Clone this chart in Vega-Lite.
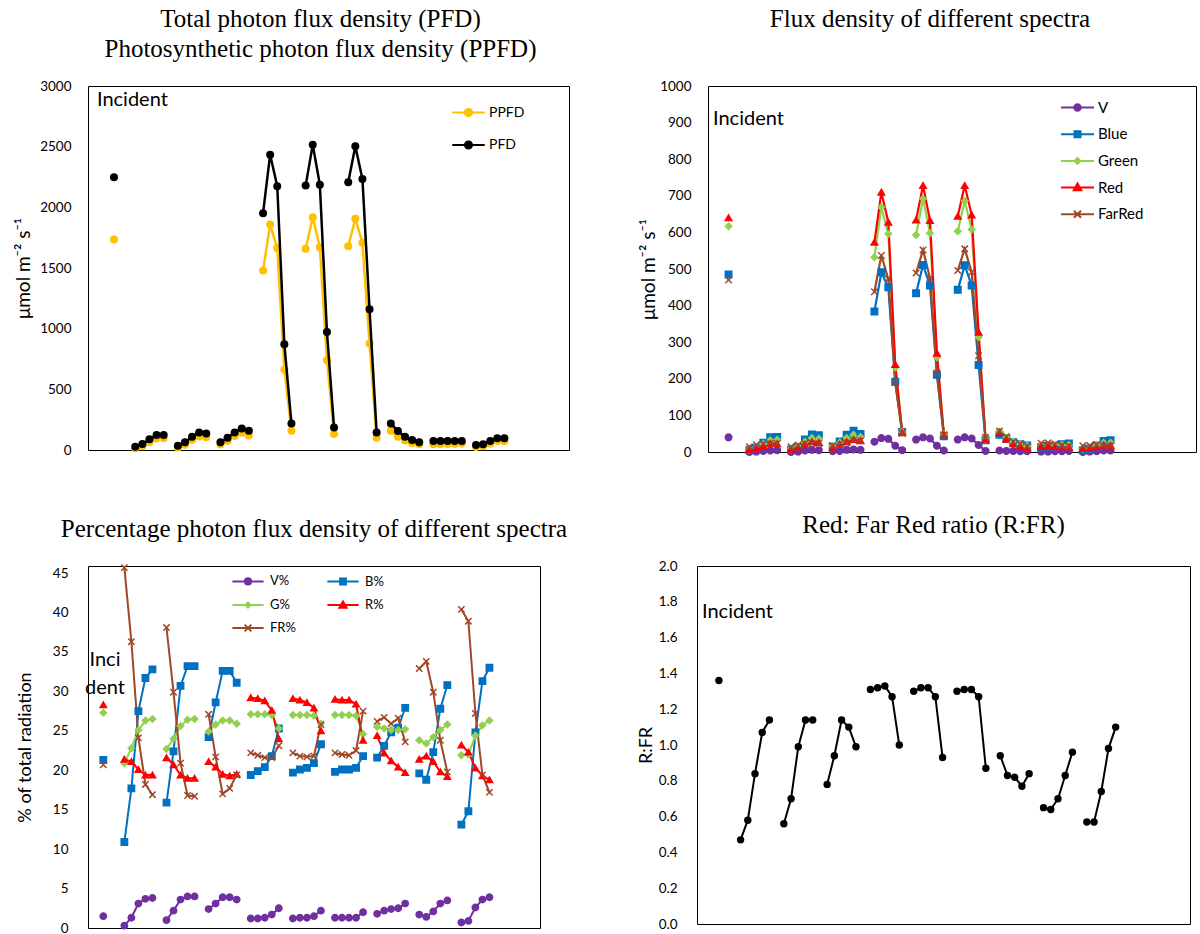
{
"$schema":"https://vega.github.io/schema/vega-lite/v6.json",
"background":"white",
"padding":{"left":14,"top":6,"right":5,"bottom":5},
"datasets":{"d":[
{"i":0,"g":0,"PPFD":1735,"PFD":2248,"V":40,"Blue":485,"Green":617,"Red":640,"FarRed":470,"V%":1.5,"B%":21.3,"G%":27.3,"R%":28.3,"FR%":20.7,"RFR":1.36},
{"i":3,"g":1,"PPFD":14,"PFD":27,"V":0,"Blue":5,"Green":7,"Red":7,"FarRed":14,"V%":0.3,"B%":10.9,"G%":20.9,"R%":21.4,"FR%":45.7,"RFR":0.47},
{"i":4,"g":1,"PPFD":30,"PFD":49,"V":1,"Blue":11,"Green":13,"Red":11,"FarRed":20,"V%":1.3,"B%":17.7,"G%":22.8,"R%":21.1,"FR%":36.3,"RFR":0.58},
{"i":5,"g":1,"PPFD":64,"PFD":88,"V":3,"Blue":25,"Green":22,"Red":18,"FarRed":22,"V%":3.1,"B%":27.5,"G%":25.1,"R%":20.1,"FR%":24.1,"RFR":0.84},
{"i":6,"g":1,"PPFD":95,"PFD":123,"V":4,"Blue":40,"Green":32,"Red":23,"FarRed":24,"V%":3.7,"B%":31.7,"G%":26.3,"R%":19.4,"FR%":18.2,"RFR":1.07},
{"i":7,"g":1,"PPFD":97,"PFD":123,"V":5,"Blue":41,"Green":33,"Red":23,"FarRed":23,"V%":3.8,"B%":32.8,"G%":26.5,"R%":19.4,"FR%":16.9,"RFR":1.14},
{"i":9,"g":2,"PPFD":21,"PFD":36,"V":0,"Blue":6,"Green":8,"Red":8,"FarRed":14,"V%":1.0,"B%":15.9,"G%":22.7,"R%":21.6,"FR%":38.1,"RFR":0.56},
{"i":10,"g":2,"PPFD":44,"PFD":63,"V":1,"Blue":14,"Green":15,"Red":13,"FarRed":19,"V%":2.2,"B%":22.4,"G%":24.0,"R%":20.7,"FR%":29.9,"RFR":0.70},
{"i":11,"g":2,"PPFD":85,"PFD":110,"V":4,"Blue":34,"Green":28,"Red":21,"FarRed":23,"V%":3.6,"B%":30.7,"G%":25.6,"R%":19.4,"FR%":20.9,"RFR":0.99},
{"i":12,"g":2,"PPFD":112,"PFD":145,"V":6,"Blue":48,"Green":38,"Red":28,"FarRed":24,"V%":4.0,"B%":33.2,"G%":26.4,"R%":19.0,"FR%":16.8,"RFR":1.14},
{"i":13,"g":2,"PPFD":105,"PFD":137,"V":5,"Blue":46,"Green":36,"Red":26,"FarRed":23,"V%":4.0,"B%":33.2,"G%":26.5,"R%":19.0,"FR%":16.7,"RFR":1.14},
{"i":15,"g":3,"PPFD":46,"PFD":63,"V":2,"Blue":15,"Green":16,"Red":13,"FarRed":17,"V%":2.4,"B%":24.2,"G%":24.9,"R%":21.1,"FR%":27.1,"RFR":0.78},
{"i":16,"g":3,"PPFD":76,"PFD":101,"V":3,"Blue":29,"Green":26,"Red":21,"FarRed":22,"V%":3.1,"B%":28.6,"G%":25.8,"R%":20.4,"FR%":21.7,"RFR":0.94},
{"i":17,"g":3,"PPFD":116,"PFD":145,"V":6,"Blue":47,"Green":38,"Red":28,"FarRed":25,"V%":3.9,"B%":32.6,"G%":26.3,"R%":19.5,"FR%":17.0,"RFR":1.14},
{"i":18,"g":3,"PPFD":142,"PFD":178,"V":7,"Blue":58,"Green":47,"Red":34,"FarRed":32,"V%":3.9,"B%":32.6,"G%":26.3,"R%":19.3,"FR%":17.7,"RFR":1.10},
{"i":19,"g":3,"PPFD":120,"PFD":159,"V":6,"Blue":49,"Green":41,"Red":31,"FarRed":31,"V%":3.6,"B%":31.1,"G%":25.9,"R%":19.5,"FR%":19.4,"RFR":0.99},
{"i":21,"g":4,"PPFD":1480,"PFD":1952,"V":28,"Blue":384,"Green":532,"Red":573,"FarRed":438,"V%":1.2,"B%":19.4,"G%":27.1,"R%":29.2,"FR%":22.2,"RFR":1.31},
{"i":22,"g":4,"PPFD":1858,"PFD":2434,"V":38,"Blue":491,"Green":669,"Red":710,"FarRed":537,"V%":1.2,"B%":19.9,"G%":27.1,"R%":29.1,"FR%":21.9,"RFR":1.32},
{"i":23,"g":4,"PPFD":1664,"PFD":2174,"V":36,"Blue":450,"Green":596,"Red":628,"FarRed":473,"V%":1.3,"B%":20.4,"G%":27.1,"R%":28.8,"FR%":21.6,"RFR":1.33},
{"i":24,"g":4,"PPFD":663,"PFD":872,"V":17,"Blue":192,"Green":231,"Red":239,"FarRed":190,"V%":1.7,"B%":21.8,"G%":27.0,"R%":27.6,"FR%":21.6,"RFR":1.27},
{"i":25,"g":4,"PPFD":159,"PFD":219,"V":5,"Blue":55,"Green":55,"Red":53,"FarRed":51,"V%":2.5,"B%":25.3,"G%":25.3,"R%":24.0,"FR%":23.1,"RFR":1.00},
{"i":27,"g":5,"PPFD":1658,"PFD":2179,"V":34,"Blue":434,"Green":593,"Red":634,"FarRed":489,"V%":1.2,"B%":19.7,"G%":27.0,"R%":29.1,"FR%":22.2,"RFR":1.30},
{"i":28,"g":5,"PPFD":1919,"PFD":2516,"V":40,"Blue":511,"Green":692,"Red":728,"FarRed":552,"V%":1.3,"B%":20.1,"G%":27.0,"R%":28.9,"FR%":21.8,"RFR":1.32},
{"i":29,"g":5,"PPFD":1672,"PFD":2187,"V":37,"Blue":455,"Green":598,"Red":633,"FarRed":475,"V%":1.3,"B%":20.3,"G%":27.0,"R%":28.6,"FR%":21.7,"RFR":1.32},
{"i":30,"g":5,"PPFD":740,"PFD":973,"V":17,"Blue":211,"Green":258,"Red":270,"FarRed":216,"V%":1.5,"B%":20.9,"G%":26.9,"R%":27.9,"FR%":21.8,"RFR":1.27},
{"i":31,"g":5,"PPFD":132,"PFD":186,"V":4,"Blue":43,"Green":48,"Red":47,"FarRed":47,"V%":2.2,"B%":23.3,"G%":25.9,"R%":25.0,"FR%":25.8,"RFR":0.93},
{"i":33,"g":6,"PPFD":1680,"PFD":2207,"V":34,"Blue":443,"Green":603,"Red":644,"FarRed":496,"V%":1.3,"B%":19.8,"G%":27.0,"R%":29.0,"FR%":22.2,"RFR":1.30},
{"i":34,"g":6,"PPFD":1905,"PFD":2503,"V":40,"Blue":510,"Green":686,"Red":728,"FarRed":555,"V%":1.3,"B%":20.1,"G%":27.0,"R%":28.9,"FR%":22.0,"RFR":1.31},
{"i":35,"g":6,"PPFD":1708,"PFD":2234,"V":37,"Blue":455,"Green":608,"Red":648,"FarRed":491,"V%":1.3,"B%":20.1,"G%":27.0,"R%":28.9,"FR%":21.9,"RFR":1.31},
{"i":36,"g":6,"PPFD":877,"PFD":1159,"V":19,"Blue":238,"Green":314,"Red":327,"FarRed":263,"V%":1.3,"B%":20.3,"G%":26.9,"R%":28.4,"FR%":22.5,"RFR":1.27},
{"i":37,"g":6,"PPFD":101,"PFD":145,"V":3,"Blue":32,"Green":34,"Red":35,"FarRed":40,"V%":2.0,"B%":21.8,"G%":24.6,"R%":23.8,"FR%":27.5,"RFR":0.87},
{"i":39,"g":7,"PPFD":158,"PFD":219,"V":4,"Blue":47,"Green":56,"Red":53,"FarRed":57,"V%":1.8,"B%":21.6,"G%":25.5,"R%":24.4,"FR%":26.2,"RFR":0.94},
{"i":40,"g":7,"PPFD":110,"PFD":156,"V":3,"Blue":36,"Green":39,"Red":35,"FarRed":42,"V%":2.2,"B%":23.1,"G%":25.3,"R%":22.2,"FR%":26.7,"RFR":0.83},
{"i":41,"g":7,"PPFD":78,"PFD":110,"V":3,"Blue":27,"Green":28,"Red":23,"FarRed":28,"V%":2.4,"B%":24.8,"G%":25.1,"R%":21.2,"FR%":25.9,"RFR":0.82},
{"i":42,"g":7,"PPFD":57,"PFD":82,"V":2,"Blue":21,"Green":21,"Red":17,"FarRed":22,"V%":2.5,"B%":25.4,"G%":25.1,"R%":20.4,"FR%":26.6,"RFR":0.77},
{"i":43,"g":7,"PPFD":48,"PFD":63,"V":2,"Blue":18,"Green":16,"Red":12,"FarRed":15,"V%":3.1,"B%":27.9,"G%":25.2,"R%":19.7,"FR%":23.6,"RFR":0.84},
{"i":45,"g":8,"PPFD":48,"PFD":75,"V":1,"Blue":14,"Green":18,"Red":16,"FarRed":24,"V%":1.7,"B%":19.6,"G%":23.8,"R%":21.4,"FR%":32.9,"RFR":0.65},
{"i":46,"g":8,"PPFD":47,"PFD":74,"V":1,"Blue":14,"Green":17,"Red":16,"FarRed":25,"V%":1.4,"B%":18.8,"G%":23.4,"R%":21.8,"FR%":33.8,"RFR":0.64},
{"i":47,"g":8,"PPFD":49,"PFD":74,"V":2,"Blue":16,"Green":18,"Red":16,"FarRed":22,"V%":2.1,"B%":22.3,"G%":24.2,"R%":21.1,"FR%":29.9,"RFR":0.70},
{"i":48,"g":8,"PPFD":52,"PFD":74,"V":2,"Blue":21,"Green":19,"Red":15,"FarRed":18,"V%":3.1,"B%":27.8,"G%":25.1,"R%":19.8,"FR%":23.8,"RFR":0.83},
{"i":49,"g":8,"PPFD":54,"PFD":74,"V":3,"Blue":23,"Green":19,"Red":14,"FarRed":15,"V%":3.5,"B%":30.8,"G%":25.8,"R%":19.2,"FR%":19.8,"RFR":0.96},
{"i":51,"g":9,"PPFD":25,"PFD":41,"V":0,"Blue":5,"Green":9,"Red":10,"FarRed":17,"V%":0.7,"B%":13.1,"G%":21.9,"R%":23.2,"FR%":40.4,"RFR":0.57},
{"i":52,"g":9,"PPFD":30,"PFD":47,"V":1,"Blue":7,"Green":10,"Red":10,"FarRed":18,"V%":0.9,"B%":14.8,"G%":22.0,"R%":22.3,"FR%":38.9,"RFR":0.57},
{"i":53,"g":9,"PPFD":52,"PFD":74,"V":2,"Blue":18,"Green":18,"Red":15,"FarRed":20,"V%":2.6,"B%":24.8,"G%":24.4,"R%":20.3,"FR%":27.2,"RFR":0.74},
{"i":54,"g":9,"PPFD":74,"PFD":96,"V":4,"Blue":30,"Green":25,"Red":19,"FarRed":19,"V%":3.6,"B%":31.3,"G%":25.7,"R%":19.3,"FR%":19.4,"RFR":0.98},
{"i":55,"g":9,"PPFD":75,"PFD":96,"V":4,"Blue":32,"Green":25,"Red":18,"FarRed":17,"V%":3.9,"B%":33.0,"G%":26.3,"R%":18.8,"FR%":17.2,"RFR":1.10}
]},
"vconcat":[
{"hconcat":[
{"width":481,"height":364,
 "title":{"text":["Total photon flux density (PFD)","Photosynthetic photon flux density (PPFD)"],"offset":17,"frame":"group","dx":-8},
 "layer":[
  {"data":{"name":"d"},"mark":{"type":"line","color":"#FFC000","strokeWidth":2.5},
   "encoding":{"x":{"field":"i","type":"quantitative","scale":{"domain":[-3.66,64.1],"nice":false,"zero":false},"axis":null},
    "y":{"field":"PPFD","type":"quantitative","scale":{"domain":[0,3000],"nice":false},"axis":{"values":[0,500,1000,1500,2000,2500,3000],"format":"d","title":"μmol m⁻² s⁻¹","labelPadding":17,"titlePadding":6}},
    "detail":{"field":"g"}}},
  {"data":{"name":"d"},"mark":{"type":"point","filled":true,"color":"#FFC000","size":64,"opacity":1},
   "encoding":{"x":{"field":"i","type":"quantitative"},
    "y":{"field":"PPFD","type":"quantitative","axis":{"values":[0,500,1000,1500,2000,2500,3000],"format":"d","title":"μmol m⁻² s⁻¹","labelPadding":17,"titlePadding":6}}}},
  {"data":{"name":"d"},"mark":{"type":"line","color":"#000000","strokeWidth":2.5},
   "encoding":{"x":{"field":"i","type":"quantitative"},
    "y":{"field":"PFD","type":"quantitative","axis":{"values":[0,500,1000,1500,2000,2500,3000],"format":"d","title":"μmol m⁻² s⁻¹","labelPadding":17,"titlePadding":6}},
    "detail":{"field":"g"}}},
  {"data":{"name":"d"},"mark":{"type":"point","filled":true,"color":"#000000","size":64,"opacity":1},
   "encoding":{"x":{"field":"i","type":"quantitative"},
    "y":{"field":"PFD","type":"quantitative","axis":{"values":[0,500,1000,1500,2000,2500,3000],"format":"d","title":"μmol m⁻² s⁻¹","labelPadding":17,"titlePadding":6}}}},
  {"data":{"name":"d"},"transform":[{"fold":["PPFD","PFD"],"as":["s","v"]},{"filter":"datum.i < -100"}],
   "mark":{"type":"point","filled":true,"strokeWidth":2},
   "encoding":{"x":{"field":"i","type":"quantitative"},
    "y":{"field":"v","type":"quantitative","axis":{"values":[0,500,1000,1500,2000,2500,3000],"format":"d","title":"μmol m⁻² s⁻¹","labelPadding":17,"titlePadding":6}},
    "fill":{"field":"s","type":"nominal","scale":{"domain":["PPFD","PFD"],"range":["#FFC000","#000000"]},"legend":{"orient":"none","legendX":363,"legendY":9,"title":null,"symbolSize":1056,"symbolStrokeWidth":2,"labelFont":"Lato","labelFontSize":14,"labelColor":"#000","labelOffset":3,"rowPadding":6.5,"padding":0,"symbolOpacity":1}},
    "stroke":{"field":"s","type":"nominal","scale":{"domain":["PPFD","PFD"],"range":["#FFC000","#000000"]},"legend":{"orient":"none","legendX":363,"legendY":9,"title":null,"symbolSize":1056,"symbolStrokeWidth":2,"labelFont":"Lato","labelFontSize":14,"labelColor":"#000","labelOffset":3,"rowPadding":6.5,"padding":0,"symbolOpacity":1}},
    "shape":{"field":"s","type":"nominal","scale":{"domain":["PPFD","PFD"],"range":["M-1,0L1,0M-0.22,0A0.22,0.22,0,1,0,0.22,0A0.22,0.22,0,1,0,-0.22,0Z","M-1,0L1,0M-0.22,0A0.22,0.22,0,1,0,0.22,0A0.22,0.22,0,1,0,-0.22,0Z"]},"legend":{"orient":"none","legendX":363,"legendY":9,"title":null,"symbolSize":1056,"symbolStrokeWidth":2,"labelFont":"Lato","labelFontSize":14,"labelColor":"#000","labelOffset":3,"rowPadding":6.5,"padding":0,"symbolOpacity":1}}}},
  {"data":{"values":[{"t":"Incident"}]},"mark":{"type":"text","align":"left","baseline":"middle","font":"Lato","fontSize":20,"color":"#000"},
   "encoding":{"x":{"datum":-2.4,"type":"quantitative"},"y":{"datum":2885,"type":"quantitative","axis":{"values":[0,500,1000,1500,2000,2500,3000],"format":"d","title":"μmol m⁻² s⁻¹","labelPadding":17,"titlePadding":6}},"text":{"field":"t"}}}
 ]},
{"width":488,"height":366,
 "title":{"text":["Flux density of different spectra",""],"offset":17,"frame":"group","dx":-22},
 "layer":[
  {"data":{"name":"d"},"transform":[{"fold":["V","Blue","Green","Red","FarRed"],"as":["s","v"]}],
   "mark":{"type":"line","strokeWidth":2.2},
   "encoding":{"x":{"field":"i","type":"quantitative","scale":{"domain":[-2.96,67.3],"nice":false,"zero":false},"axis":null},
    "y":{"field":"v","type":"quantitative","scale":{"domain":[0,1000],"nice":false},"axis":{"values":[0,100,200,300,400,500,600,700,800,900,1000],"format":"d","title":"μmol m⁻² s⁻¹","labelPadding":17,"titlePadding":1}},
    "stroke":{"field":"s","type":"nominal","scale":{"domain":["V","Blue","Green","Red","FarRed"],"range":["#7030A0","#0070C0","#92D050","#FF0000","#A0472A"]},"legend":null},
    "detail":{"field":"g"}}},
  {"data":{"name":"d"},"transform":[{"fold":["V","Blue","Green","Red","FarRed"],"as":["s","v"]}],
   "mark":{"type":"point","filled":true,"strokeWidth":1.5,"size":42,"opacity":1},
   "encoding":{"x":{"field":"i","type":"quantitative"},
    "y":{"field":"v","type":"quantitative","axis":{"values":[0,100,200,300,400,500,600,700,800,900,1000],"format":"d","title":"μmol m⁻² s⁻¹","labelPadding":17,"titlePadding":1}},
    "fill":{"field":"s","type":"nominal","scale":{"domain":["V","Blue","Green","Red","FarRed"],"range":["#7030A0","#0070C0","#92D050","#FF0000","#A0472A"]},"legend":null},
    "stroke":{"field":"s","type":"nominal","scale":{"domain":["V","Blue","Green","Red","FarRed"],"range":["#7030A0","#0070C0","#92D050","#FF0000","#A0472A"]},"legend":null},
    "shape":{"field":"s","type":"nominal","scale":{"domain":["V","Blue","Green","Red","FarRed"],"range":["circle","square","diamond","triangle-up","M-1,-1L1,1M-1,1L1,-1"]},"legend":null}}},
  {"data":{"name":"d"},"transform":[{"fold":["V","Blue","Green","Red","FarRed"],"as":["s","v"]},{"filter":"datum.i < -100"}],
   "mark":{"type":"point","filled":true,"strokeWidth":2},
   "encoding":{"x":{"field":"i","type":"quantitative"},
    "y":{"field":"v","type":"quantitative","axis":{"values":[0,100,200,300,400,500,600,700,800,900,1000],"format":"d","title":"μmol m⁻² s⁻¹","labelPadding":17,"titlePadding":1}},
    "fill":{"field":"s","type":"nominal","scale":{"domain":["V","Blue","Green","Red","FarRed"],"range":["#7030A0","#0070C0","#92D050","#FF0000","#A0472A"]},"legend":{"orient":"none","legendX":355,"legendY":7,"title":null,"symbolSize":729,"symbolStrokeWidth":2,"labelFont":"Lato","labelFontSize":15,"labelColor":"#000","labelOffset":6,"rowPadding":3.7,"padding":0,"symbolOpacity":1}},
    "stroke":{"field":"s","type":"nominal","scale":{"domain":["V","Blue","Green","Red","FarRed"],"range":["#7030A0","#0070C0","#92D050","#FF0000","#A0472A"]},"legend":{"orient":"none","legendX":355,"legendY":7,"title":null,"symbolSize":729,"symbolStrokeWidth":2,"labelFont":"Lato","labelFontSize":15,"labelColor":"#000","labelOffset":6,"rowPadding":3.7,"padding":0,"symbolOpacity":1}},
    "shape":{"field":"s","type":"nominal","scale":{"domain":["V","Blue","Green","Red","FarRed"],"range":["M-1.22,0L1.22,0M-0.24,0A0.24,0.24,0,1,0,0.24,0A0.24,0.24,0,1,0,-0.24,0Z","M-1.22,0L1.22,0M-0.22,-0.22L0.22,-0.22L0.22,0.22L-0.22,0.22Z","M-1.22,0L1.22,0M0,-0.22L0.22,0L0,0.22L-0.22,0Z","M-1.22,0L1.22,0M0,-0.3L0.28,0.2L-0.28,0.2Z","M-1.22,0L1.22,0M-0.26,-0.26L0.26,0.26M-0.26,0.26L0.26,-0.26"]},"legend":{"orient":"none","legendX":355,"legendY":7,"title":null,"symbolSize":729,"symbolStrokeWidth":2,"labelFont":"Lato","labelFontSize":15,"labelColor":"#000","labelOffset":6,"rowPadding":3.7,"padding":0,"symbolOpacity":1}}}},
  {"data":{"values":[{"t":"Incident"}]},"mark":{"type":"text","align":"left","baseline":"middle","font":"Lato","fontSize":20,"color":"#000"},
   "encoding":{"x":{"datum":-2.24,"type":"quantitative"},"y":{"datum":910,"type":"quantitative","axis":{"values":[0,100,200,300,400,500,600,700,800,900,1000],"format":"d","title":"μmol m⁻² s⁻¹","labelPadding":17,"titlePadding":1}},"text":{"field":"t"}}}
 ],
 "resolve":{"scale":{"fill":"independent","stroke":"independent","shape":"independent"}}}
],"spacing":69},
{"hconcat":[
{"width":452,"height":362,
 "title":{"text":"Percentage photon flux density of different spectra","offset":19,"frame":"group","dx":0},
 "layer":[
  {"data":{"name":"d"},"transform":[{"fold":["V%","B%","G%","R%","FR%"],"as":["s","v"]}],
   "mark":{"type":"line","strokeWidth":2},
   "encoding":{"x":{"field":"i","type":"quantitative","scale":{"domain":[-2.18,62.2],"nice":false,"zero":false},"axis":null},
    "y":{"field":"v","type":"quantitative","scale":{"domain":[0,45.9],"nice":false},"axis":{"values":[0,5,10,15,20,25,30,35,40,45],"title":"% of total radiation","titleFontSize":18,"labelPadding":20,"titlePadding":18}},
    "stroke":{"field":"s","type":"nominal","scale":{"domain":["V%","B%","G%","R%","FR%"],"range":["#7030A0","#0070C0","#92D050","#FF0000","#A0472A"]},"legend":null},
    "detail":{"field":"g"}}},
  {"data":{"name":"d"},"transform":[{"fold":["V%","B%","G%","R%","FR%"],"as":["s","v"]}],
   "mark":{"type":"point","filled":true,"strokeWidth":1.5,"size":40,"opacity":1},
   "encoding":{"x":{"field":"i","type":"quantitative"},
    "y":{"field":"v","type":"quantitative","axis":{"values":[0,5,10,15,20,25,30,35,40,45],"title":"% of total radiation","titleFontSize":18,"labelPadding":20,"titlePadding":18}},
    "fill":{"field":"s","type":"nominal","scale":{"domain":["V%","B%","G%","R%","FR%"],"range":["#7030A0","#0070C0","#92D050","#FF0000","#A0472A"]},"legend":null},
    "stroke":{"field":"s","type":"nominal","scale":{"domain":["V%","B%","G%","R%","FR%"],"range":["#7030A0","#0070C0","#92D050","#FF0000","#A0472A"]},"legend":null},
    "shape":{"field":"s","type":"nominal","scale":{"domain":["V%","B%","G%","R%","FR%"],"range":["circle","square","diamond","triangle-up","M-1,-1L1,1M-1,1L1,-1"]},"legend":null}}},
  {"data":{"name":"d"},"transform":[{"fold":["V%","B%","G%","R%","FR%"],"as":["s","v"]},{"filter":"datum.i < -100"}],
   "mark":{"type":"point","filled":true,"strokeWidth":2},
   "encoding":{"x":{"field":"i","type":"quantitative"},
    "y":{"field":"v","type":"quantitative","axis":{"values":[0,5,10,15,20,25,30,35,40,45],"title":"% of total radiation","titleFontSize":18,"labelPadding":20,"titlePadding":18}},
    "fill":{"field":"s","type":"nominal","scale":{"domain":["V%","G%","FR%","B%","R%"],"range":["#7030A0","#92D050","#A0472A","#0070C0","#FF0000"]},"legend":{"orient":"none","legendX":147,"legendY":2,"title":null,"columns":2,"columnPadding":27,"symbolSize":576,"symbolStrokeWidth":2,"labelFont":"Lato","labelFontSize":13,"labelColor":"#000","labelOffset":9,"rowPadding":3,"padding":0,"symbolOpacity":1}},
    "stroke":{"field":"s","type":"nominal","scale":{"domain":["V%","G%","FR%","B%","R%"],"range":["#7030A0","#92D050","#A0472A","#0070C0","#FF0000"]},"legend":{"orient":"none","legendX":147,"legendY":2,"title":null,"columns":2,"columnPadding":27,"symbolSize":576,"symbolStrokeWidth":2,"labelFont":"Lato","labelFontSize":13,"labelColor":"#000","labelOffset":9,"rowPadding":3,"padding":0,"symbolOpacity":1}},
    "shape":{"field":"s","type":"nominal","scale":{"domain":["V%","G%","FR%","B%","R%"],"range":["M-1.3,0L1.3,0M-0.26,0A0.26,0.26,0,1,0,0.26,0A0.26,0.26,0,1,0,-0.26,0Z","M-1.3,0L1.3,0M0,-0.22L0.22,0L0,0.22L-0.22,0Z","M-1.3,0L1.3,0M-0.28,-0.28L0.28,0.28M-0.28,0.28L0.28,-0.28","M-1.3,0L1.3,0M-0.24,-0.24L0.24,-0.24L0.24,0.24L-0.24,0.24Z","M-1.3,0L1.3,0M0,-0.3L0.3,0.22L-0.3,0.22Z"]},"legend":{"orient":"none","legendX":147,"legendY":2,"title":null,"columns":2,"columnPadding":27,"symbolSize":576,"symbolStrokeWidth":2,"labelFont":"Lato","labelFontSize":13,"labelColor":"#000","labelOffset":9,"rowPadding":3,"padding":0,"symbolOpacity":1}}}},
  {"data":{"values":[{"t":"Inci\ndent"}]},"mark":{"type":"text","align":"center","baseline":"top","font":"Lato","fontSize":20,"lineHeight":28,"lineBreak":"\n","color":"#000"},
   "encoding":{"x":{"datum":0.24,"type":"quantitative"},"y":{"datum":35.2,"type":"quantitative","axis":{"values":[0,5,10,15,20,25,30,35,40,45],"title":"% of total radiation","titleFontSize":18,"labelPadding":20,"titlePadding":18}},"text":{"field":"t"}}}
 ],
 "resolve":{"scale":{"fill":"independent","stroke":"independent","shape":"independent"}}},
{"width":493,"height":358,
 "title":{"text":"Red: Far Red ratio (R:FR)","offset":21,"frame":"group","dx":-10},
 "layer":[
  {"data":{"name":"d"},"mark":{"type":"line","color":"#000000","strokeWidth":2},
   "encoding":{"x":{"field":"i","type":"quantitative","scale":{"domain":[-3.04,65.3],"nice":false,"zero":false},"axis":null},
    "y":{"field":"RFR","type":"quantitative","scale":{"domain":[0,2],"nice":false},"axis":{"values":[0,0.2,0.4,0.6,0.8,1.0,1.2,1.4,1.6,1.8,2.0],"format":".1f","title":"R:FR","titleFontSize":18,"labelPadding":20,"titlePadding":3}},
    "detail":{"field":"g"}}},
  {"data":{"name":"d"},"mark":{"type":"point","filled":true,"color":"#000000","size":55,"opacity":1},
   "encoding":{"x":{"field":"i","type":"quantitative"},
    "y":{"field":"RFR","type":"quantitative","axis":{"values":[0,0.2,0.4,0.6,0.8,1.0,1.2,1.4,1.6,1.8,2.0],"format":".1f","title":"R:FR","titleFontSize":18,"labelPadding":20,"titlePadding":3}}}},
  {"data":{"values":[{"t":"Incident"}]},"mark":{"type":"text","align":"left","baseline":"middle","font":"Lato","fontSize":20,"color":"#000"},
   "encoding":{"x":{"datum":-2.35,"type":"quantitative"},"y":{"datum":1.744,"type":"quantitative","axis":{"values":[0,0.2,0.4,0.6,0.8,1.0,1.2,1.4,1.6,1.8,2.0],"format":".1f","title":"R:FR","titleFontSize":18,"labelPadding":20,"titlePadding":3}},"text":{"field":"t"}}}
 ]}
],"spacing":68}
],
"spacing":53,
"config":{
 "view":{"stroke":"#000000","strokeWidth":1},
 "axis":{"grid":false,"ticks":false,"tickSize":0,"domain":false,"labelFont":"Lato","labelFontSize":13.5,"labelColor":"#000","titleFont":"Lato","titleFontSize":19,"titleFontWeight":"normal","titleColor":"#000"},
 "legend":{"columnPadding":27},
 "title":{"font":"Liberation Serif","fontSize":25,"fontWeight":"normal","color":"#000","lineHeight":30}
}
}
